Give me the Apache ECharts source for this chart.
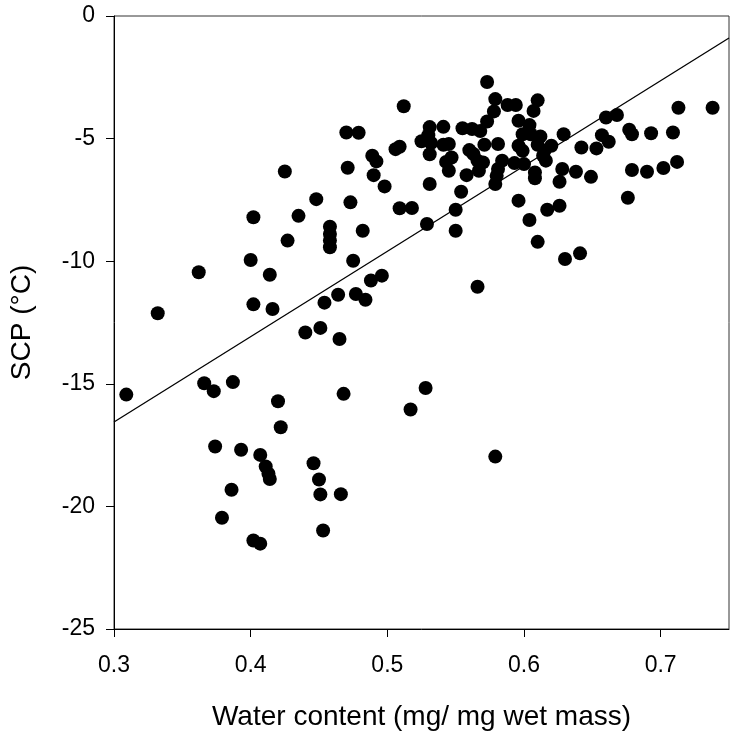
<!DOCTYPE html>
<html>
<head>
<meta charset="utf-8">
<script src="https://cdn.jsdelivr.net/npm/echarts@6/dist/echarts.min.js"></script>
<style>
  html, body { margin: 0; padding: 0; background: #fff; }
  #chart { width: 730px; height: 736px; }
</style>
</head>
<body>
<div id="chart"></div>
<script>
// water content (mg/mg wet mass) and supercooling point (°C)
const waterContent = [
  0.309, 0.332, 0.362, 0.366, 0.373, 0.387, 0.374, 0.379, 0.386, 0.393,
  0.400, 0.402, 0.402, 0.402, 0.407, 0.407, 0.411, 0.413, 0.414, 0.414,
  0.416, 0.420, 0.422, 0.427, 0.425, 0.435, 0.448, 0.440, 0.451, 0.446,
  0.450, 0.451, 0.453, 0.454, 0.458, 0.458, 0.458, 0.458, 0.464, 0.465,
  0.466, 0.468, 0.470, 0.471, 0.473, 0.475, 0.479, 0.482, 0.477, 0.484,
  0.488, 0.496, 0.489, 0.492, 0.490, 0.498, 0.506, 0.509, 0.512, 0.509,
  0.518, 0.517, 0.528, 0.529, 0.531, 0.531, 0.530, 0.525, 0.532, 0.531,
  0.541, 0.541, 0.545, 0.547, 0.543, 0.545, 0.550, 0.550, 0.554, 0.555,
  0.562, 0.568, 0.573, 0.571, 0.560, 0.563, 0.566, 0.570, 0.567, 0.558,
  0.573, 0.579, 0.578, 0.566, 0.579, 0.588, 0.594, 0.610, 0.607, 0.596,
  0.604, 0.599, 0.605, 0.612, 0.581, 0.596, 0.599, 0.610, 0.615, 0.620,
  0.614, 0.616, 0.584, 0.581, 0.580, 0.579, 0.593, 0.600, 0.608, 0.608,
  0.629, 0.642, 0.653, 0.657, 0.662, 0.660, 0.668, 0.677, 0.679, 0.693,
  0.709, 0.713, 0.738, 0.628, 0.626, 0.638, 0.649, 0.679, 0.690, 0.702,
  0.712, 0.676, 0.596, 0.617, 0.626, 0.604, 0.610, 0.630, 0.641
]
const scp = [
  -15.44, -12.12, -10.45, -14.98, -15.30, -14.93, -17.56, -20.46, -19.32, -17.69,
  -9.95, -8.21, -11.76, -21.39, -21.52, -17.90, -18.37, -18.67, -18.88, -10.55,
  -11.95, -15.71, -16.77, -9.16, -6.34, -8.15, -7.47, -12.91, -12.72, -18.24,
  -18.90, -19.51, -20.98, -11.69, -8.59, -8.89, -9.16, -9.43, -11.37, -13.17,
  -19.50, -15.41, -4.75, -6.19, -7.60, -9.98, -4.76, -8.76, -11.34, -11.57,
  -10.79, -10.59, -5.70, -5.93, -6.49, -6.95, -5.43, -5.33, -3.68, -7.84,
  -7.83, -16.05, -15.17, -8.48, -6.85, -4.53, -4.86, -5.11, -5.18, -5.64,
  -4.52, -5.25, -5.22, -5.77, -5.95, -6.31, -7.90, -8.76, -7.17, -4.58,
  -4.61, -4.69, -4.30, -5.25, -5.47, -5.63, -5.90, -5.97, -6.31, -6.49,
  -2.69, -3.39, -3.89, -11.04, -17.97, -3.63, -3.63, -3.44, -3.87, -4.27,
  -4.45, -4.82, -4.82, -4.91, -5.22, -5.29, -5.50, -5.25, -5.50, -5.29,
  -5.70, -5.90, -5.90, -6.24, -6.52, -6.85, -6.00, -6.04, -6.38, -6.62,
  -4.82, -5.36, -5.40, -4.86, -5.13, -4.14, -4.04, -4.64, -4.82, -4.78,
  -4.75, -3.74, -3.74, -6.24, -6.76, -6.35, -6.56, -6.28, -6.35, -6.20,
  -5.95, -7.41, -7.53, -7.90, -7.74, -8.32, -9.21, -9.91, -9.68
]

// regression line end points
const lineX = [0.3, 0.75]
const lineY = [-16.56, -0.90]

const xTicks = [0.3, 0.4, 0.5, 0.6, 0.7]

const FONT = 'Liberation Sans, Arial, sans-serif'

const points = waterContent.map((x, i) => [x, scp[i]])
const fitLine = lineX.map((x, i) => [x, lineY[i]])

const chart = echarts.init(document.getElementById('chart'), null, { renderer: 'canvas' })

chart.setOption({
  animation: false,
  backgroundColor: '#fff',
  grid: {
    left: 114,
    right: 1,
    top: 16,
    bottom: 105,
    show: true,
    borderColor: '#333',
    borderWidth: 1,
    backgroundColor: 'transparent'
  },
  xAxis: {
    type: 'value',
    min: 0.3,
    max: 0.75,
    interval: 0.1,
    name: 'Water content (mg/ mg wet mass)',
    nameLocation: 'middle',
    nameGap: 74,
    nameTextStyle: { fontFamily: FONT, fontSize: 28, color: '#000' },
    axisLine: { show: true, onZero: false, lineStyle: { color: '#000', width: 1 } },
    axisTick: { show: true, inside: false, length: 8, customValues: xTicks, lineStyle: { color: '#000' } },
    axisLabel: {
      customValues: xTicks,
      margin: 25,
      fontFamily: FONT,
      fontSize: 23,
      color: '#000',
      formatter: (v) => v.toFixed(1)
    },
    splitLine: { show: false }
  },
  yAxis: {
    type: 'value',
    min: -25,
    max: 0,
    interval: 5,
    name: 'SCP (°C)',
    nameLocation: 'middle',
    nameGap: 78,
    nameTextStyle: { fontFamily: FONT, fontSize: 28, color: '#000' },
    axisLine: { show: true, onZero: false, lineStyle: { color: '#000', width: 1 } },
    axisTick: { show: true, inside: false, length: 8, lineStyle: { color: '#000' } },
    axisLabel: { margin: 19, fontFamily: FONT, fontSize: 23, color: '#000' },
    splitLine: { show: false }
  },
  series: [
    {
      name: 'SCP',
      type: 'scatter',
      data: points,
      symbol: 'circle',
      symbolSize: 14,
      itemStyle: { color: '#000', opacity: 1 },
      silent: true
    },
    {
      name: 'fit',
      type: 'line',
      data: fitLine,
      showSymbol: false,
      symbol: 'none',
      lineStyle: { color: '#000', width: 1.3 },
      silent: true,
      z: 1
    }
  ]
})
</script>
</body>
</html>
